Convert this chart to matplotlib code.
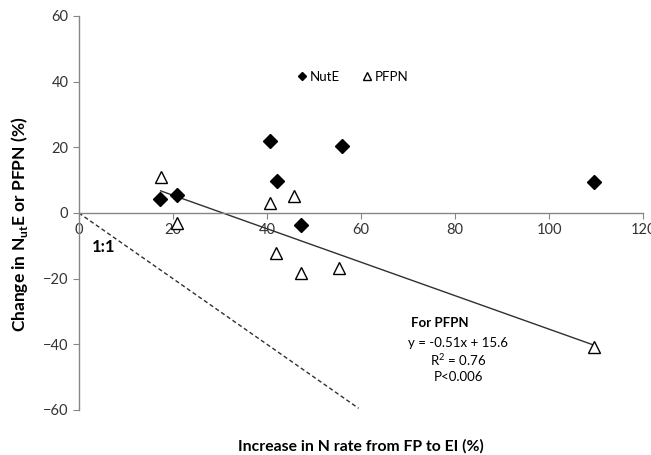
import matplotlib
matplotlib.use("Agg")
import matplotlib.pyplot as plt

plt.rcParams['font.family'] = ['Lato', 'DejaVu Sans']
plt.rcParams['mathtext.fontset'] = 'custom'
plt.rcParams['mathtext.rm'] = 'Lato'
plt.rcParams['mathtext.bf'] = 'Lato:bold'

# NutE (filled diamonds)
nute_x = [17.2, 20.9, 40.6, 42.1, 56.0, 47.2, 109.6]
nute_y = [4.3, 5.5, 21.9, 9.7, 20.4, -3.7, 9.4]

# PFPN (open triangles)
pfpn_x = [17.4, 20.9, 40.6, 42.0, 45.7, 47.2, 55.3, 109.6]
pfpn_y = [11.0, -3.0, 3.0, -12.2, 5.2, -18.3, -16.8, -40.8]

# regression for PFPN
slope = -0.51
intercept = 15.6
fit_x = [17.4, 109.6]
fit_y = [slope * v + intercept for v in fit_x]

# 1:1 line
one_x = [0, 59.5]
one_y = [0, -59.5]

fig = plt.figure(figsize=(6.51, 4.55), dpi=100)
ax = fig.add_axes([0.121, 0.099, 0.867, 0.866])

ax.plot(fit_x, fit_y, color='#303030', lw=1)
ax.plot(one_x, one_y, color='#303030', lw=1, ls=(0, (3, 2)))
ax.plot(nute_x, nute_y, 'D', ms=6.8, color='black', mec='black', label='NutE', ls='none')
ax.plot(pfpn_x, pfpn_y, '^', ms=9, mfc='white', mec='black', mew=1, label='PFPN', ls='none')

ax.set_xlim(0, 120)
ax.set_ylim(-60, 60)
ax.set_xticks(range(0, 121, 20))
ax.set_yticks(range(-60, 61, 20))

ax.spines['top'].set_visible(False)
ax.spines['right'].set_visible(False)
ax.spines['bottom'].set_position(('data', 0))
for s in ['left', 'bottom']:
    ax.spines[s].set_color('#868686')
    ax.spines[s].set_linewidth(1)
ax.tick_params(axis='both', colors='#868686', labelcolor='#333333', labelsize=10.5, length=4)
ax.tick_params(axis='x', pad=3)

ax.set_xlabel('Increase in N rate from FP to EI (%)', fontsize=11.3, fontweight='bold')
ax.xaxis.set_label_coords(0.5, -0.075)
ax.set_ylabel('Change in N$_{\\mathbf{ut}}$E or PFPN (%)', fontsize=12.5, fontweight='bold')
ax.yaxis.set_label_coords(-0.087, 0.47)

ax.text(5.2, -10.4, '1:1', fontsize=12, fontweight='bold', ha='center', va='center')
ax.text(76.8, -33.5, 'For PFPN', fontsize=9.5, fontweight='bold', ha='center', va='center')
ax.text(80.7, -39.6, 'y = -0.51x + 15.6', fontsize=9.5, ha='center', va='center')
ax.text(80.7, -44.7, 'R$^2$ = 0.76', fontsize=9.5, ha='center', va='center')
ax.text(80.7, -50.0, 'P<0.006', fontsize=9.5, ha='center', va='center')

ax.legend(loc='center', bbox_to_anchor=(0.484, 0.845), ncol=2, frameon=False,
          fontsize=9.5, handletextpad=0.1, columnspacing=1.6, markerscale=0.65,
          handlelength=1.0)

fig.savefig('out.png', dpi=100)
